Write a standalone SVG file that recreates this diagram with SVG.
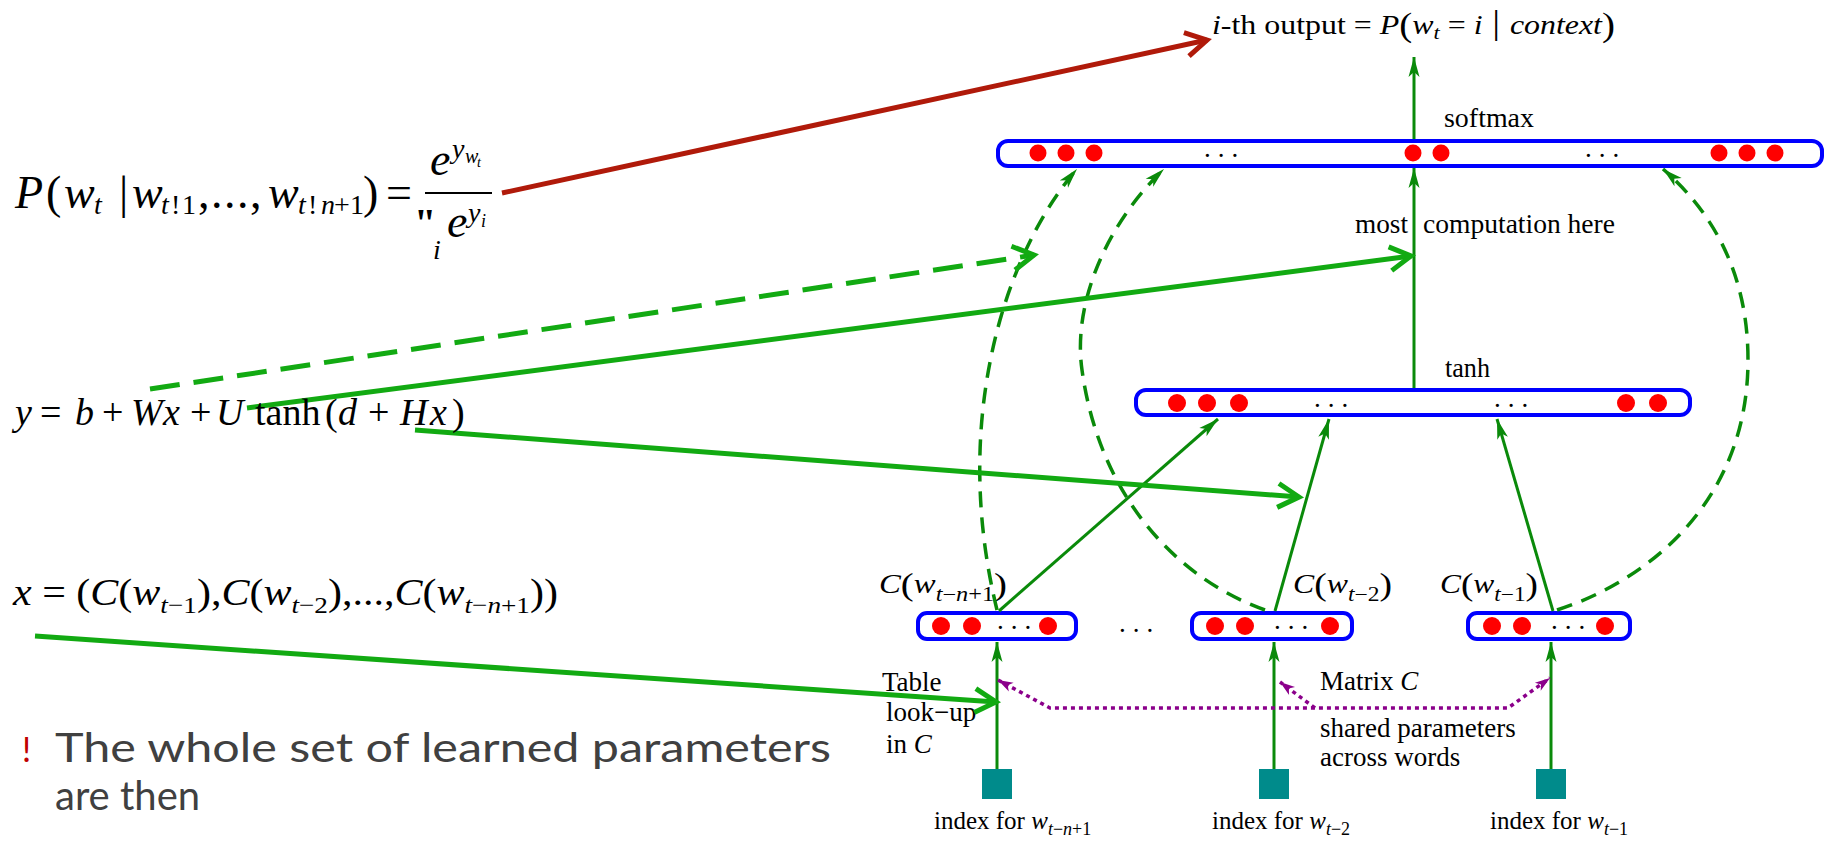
<svg xmlns="http://www.w3.org/2000/svg" width="1826" height="841" viewBox="0 0 1826 841">
<style>
.box{fill:#fff;stroke:#0000ff;stroke-width:4}
.dot{fill:#ff0000}
.edge{fill:none;stroke:#0a8a0a;stroke-width:3}
.arc{fill:none;stroke:#0a8a0a;stroke-width:3.5;stroke-dasharray:16 10}
.note{fill:none;stroke:#12aa12;stroke-width:5}
.note-dash{stroke-dasharray:30 14}
.red{fill:none;stroke:#b01a0a;stroke-width:5}
.share{fill:none;stroke:#8b008b;stroke-width:3.5;stroke-dasharray:4 4}
.key{fill:#008b8b}
.t{font-family:"Liberation Serif","Times New Roman",serif;font-size:27px;fill:#000}
.idx{font-family:"Liberation Serif","Times New Roman",serif;font-size:25px;fill:#000}
.i{font-style:italic}
.eq{font-family:"Liberation Serif","Times New Roman",serif;fill:#000}
.ell{font-family:"Liberation Serif",serif;font-size:27px;letter-spacing:7px;fill:#000}
.bul{font-family:Lato,"Open Sans",sans-serif;font-size:40px;fill:#404040}
</style>
<defs>
<marker id="tip" markerUnits="userSpaceOnUse" viewBox="-22 -7 24 14" markerWidth="24" markerHeight="14" refX="0" refY="0" orient="auto" overflow="visible">
<path d="M0,0 L-20,-5.5 L-15,0 L-20,5.5 Z" fill="#0a8a0a"/>
</marker>
<marker id="ptip" markerUnits="userSpaceOnUse" viewBox="-18 -7 20 14" markerWidth="20" markerHeight="14" refX="0" refY="0" orient="auto-start-reverse" overflow="visible">
<path d="M0,0 L-15,-5 L-11,0 L-15,5 Z" fill="#8b008b"/>
</marker>
<marker id="chev" markerUnits="userSpaceOnUse" viewBox="-26 -16 30 32" markerWidth="30" markerHeight="32" refX="0" refY="0" orient="auto" overflow="visible">
<path d="M-21,-12 L0,0 L-21,12" fill="none" stroke="#12aa12" stroke-width="5"/>
</marker>
<marker id="chev-red" markerUnits="userSpaceOnUse" viewBox="-26 -16 30 32" markerWidth="30" markerHeight="32" refX="0" refY="0" orient="auto" overflow="visible">
<path d="M-21,-12 L0,0 L-21,12" fill="none" stroke="#b01a0a" stroke-width="5"/>
</marker>
</defs>
<rect width="1826" height="841" fill="#fff"/>

<!-- output probability -->
<g id="output-label">
<text class="t" x="1212" y="34" textLength="403" lengthAdjust="spacingAndGlyphs"><tspan class="i">i</tspan>-th output = <tspan class="i">P</tspan><tspan font-size="33" dy="2">(</tspan><tspan class="i" dy="-2">w</tspan><tspan class="i" font-size="19" dy="5">t</tspan><tspan dy="-5">  =  </tspan><tspan class="i">i</tspan><tspan font-size="33"> | </tspan><tspan class="i">context</tspan><tspan font-size="33" dy="2">)</tspan></text>
</g>

<!-- softmax output layer -->
<g id="softmax-layer">
<rect class="box" x="998" y="141" width="824" height="25" rx="10"/>
<circle class="dot" cx="1038" cy="153" r="8.5"/>
<circle class="dot" cx="1066" cy="153" r="8.5"/>
<circle class="dot" cx="1094" cy="153" r="8.5"/>
<circle class="dot" cx="1413" cy="153" r="8.5"/>
<circle class="dot" cx="1441" cy="153" r="8.5"/>
<circle class="dot" cx="1719" cy="153" r="8.5"/>
<circle class="dot" cx="1747" cy="153" r="8.5"/>
<circle class="dot" cx="1775" cy="153" r="8.5"/>
<text class="ell" x="1204" y="157">...</text>
<text class="ell" x="1585" y="157">...</text>
<text class="t" x="1444" y="127" textLength="90" lengthAdjust="spacingAndGlyphs">softmax</text>
</g>

<!-- hidden tanh layer -->
<g id="tanh-layer">
<rect class="box" x="1136" y="390" width="554" height="25" rx="10"/>
<circle class="dot" cx="1177" cy="403" r="9"/>
<circle class="dot" cx="1207" cy="403" r="9"/>
<circle class="dot" cx="1239" cy="403" r="9"/>
<circle class="dot" cx="1626" cy="403" r="9"/>
<circle class="dot" cx="1658" cy="403" r="9"/>
<text class="ell" x="1314" y="407">...</text>
<text class="ell" x="1494" y="407">...</text>
<text class="t" x="1445" y="377" textLength="45" lengthAdjust="spacingAndGlyphs">tanh</text>
</g>

<g id="compute-label">
<text class="t" x="1355" y="233" textLength="53" lengthAdjust="spacingAndGlyphs">most</text>
<text class="t" x="1423" y="233" textLength="192" lengthAdjust="spacingAndGlyphs">computation here</text>
</g>

<!-- word feature vectors -->
<g id="feature-n1">
<rect class="box" x="918" y="613" width="158" height="26" rx="9"/>
<circle class="dot" cx="941" cy="626" r="9"/>
<circle class="dot" cx="972" cy="626" r="9"/>
<circle class="dot" cx="1048" cy="626" r="9"/>
<text class="ell" x="997" y="629">...</text>
<text class="t" x="879" y="593" textLength="128" lengthAdjust="spacingAndGlyphs"><tspan class="i">C</tspan><tspan font-size="32" dy="2">(</tspan><tspan class="i" dy="-2">w</tspan><tspan font-size="20" dy="8"><tspan class="i">t</tspan>−<tspan class="i">n</tspan>+1</tspan><tspan font-size="32" dy="-6">)</tspan></text>
</g>
<g id="feature-2">
<rect class="box" x="1192" y="613" width="160" height="26" rx="9"/>
<circle class="dot" cx="1215" cy="626" r="9"/>
<circle class="dot" cx="1245" cy="626" r="9"/>
<circle class="dot" cx="1330" cy="626" r="9"/>
<text class="ell" x="1274" y="629">...</text>
<text class="t" x="1293" y="593" textLength="99" lengthAdjust="spacingAndGlyphs"><tspan class="i">C</tspan><tspan font-size="32" dy="2">(</tspan><tspan class="i" dy="-2">w</tspan><tspan font-size="20" dy="8"><tspan class="i">t</tspan>−2</tspan><tspan font-size="32" dy="-6">)</tspan></text>
</g>
<g id="feature-1">
<rect class="box" x="1468" y="613" width="162" height="26" rx="9"/>
<circle class="dot" cx="1492" cy="626" r="9"/>
<circle class="dot" cx="1522" cy="626" r="9"/>
<circle class="dot" cx="1605" cy="626" r="9"/>
<text class="ell" x="1551" y="629">...</text>
<text class="t" x="1440" y="593" textLength="98" lengthAdjust="spacingAndGlyphs"><tspan class="i">C</tspan><tspan font-size="32" dy="2">(</tspan><tspan class="i" dy="-2">w</tspan><tspan font-size="20" dy="8"><tspan class="i">t</tspan>−1</tspan><tspan font-size="32" dy="-6">)</tspan></text>
</g>
<text class="ell" x="1119" y="632">...</text>

<!-- word index inputs -->
<g id="index-n1">
<rect class="key" x="982" y="769" width="30" height="30"/>
<text class="idx" x="934" y="829">index for <tspan class="i">w</tspan><tspan font-size="18" dy="6"><tspan class="i">t</tspan>−<tspan class="i">n</tspan>+1</tspan></text>
</g>
<g id="index-2">
<rect class="key" x="1259" y="769" width="30" height="30"/>
<text class="idx" x="1212" y="829">index for <tspan class="i">w</tspan><tspan font-size="18" dy="6"><tspan class="i">t</tspan>−2</tspan></text>
</g>
<g id="index-1">
<rect class="key" x="1536" y="769" width="30" height="30"/>
<text class="idx" x="1490" y="829">index for <tspan class="i">w</tspan><tspan font-size="18" dy="6"><tspan class="i">t</tspan>−1</tspan></text>
</g>

<g id="lookup-label">
<text class="t" x="882" y="691">Table</text>
<text class="t" x="886" y="721">look−up</text>
<text class="t" x="886" y="753">in <tspan class="i">C</tspan></text>
</g>
<g id="matrix-label">
<text class="t" x="1320" y="690">Matrix <tspan class="i">C</tspan></text>
<text class="t" x="1320" y="737">shared parameters</text>
<text class="t" x="1320" y="766">across words</text>
</g>

<!-- connectors -->
<g id="connectors">
<line class="edge" x1="1414" y1="139" x2="1414" y2="57" marker-end="url(#tip)"/>
<line class="edge" x1="1414" y1="388" x2="1414" y2="168" marker-end="url(#tip)"/>
<line class="edge" x1="997" y1="769" x2="997" y2="642" marker-end="url(#tip)"/>
<line class="edge" x1="1274" y1="769" x2="1274" y2="642" marker-end="url(#tip)"/>
<line class="edge" x1="1551" y1="769" x2="1551" y2="642" marker-end="url(#tip)"/>
<line class="edge" x1="999" y1="611" x2="1218" y2="419" marker-end="url(#tip)"/>
<line class="edge" x1="1275" y1="611" x2="1329" y2="419" marker-end="url(#tip)"/>
<line class="edge" x1="1553" y1="611" x2="1497" y2="419" marker-end="url(#tip)"/>
<path class="arc" d="M997,610 C975,520 972,420 1000,320 C1020,250 1050,200 1077,169" marker-end="url(#tip)"/>
<path class="arc" d="M1265,610 C1180,580 1100,500 1082,370 C1072,300 1110,220 1164,169" marker-end="url(#tip)"/>
<path class="arc" d="M1557,610 C1650,580 1748,500 1748,360 C1748,270 1710,210 1663,169" marker-end="url(#tip)"/>
<path class="share" d="M998,680 L1050,708 L1508,708 L1550,678" marker-start="url(#ptip)" marker-end="url(#ptip)"/>
<path class="share" d="M1315,708 L1280,682" marker-end="url(#ptip)"/>
<line class="red" x1="502" y1="193" x2="1207" y2="40" marker-end="url(#chev-red)"/>
<line class="note note-dash" x1="150" y1="389" x2="1034" y2="255" marker-end="url(#chev)"/>
<line class="note" x1="247" y1="408" x2="1411" y2="256" marker-end="url(#chev)"/>
<line class="note" x1="415" y1="430" x2="1299" y2="497" marker-end="url(#chev)"/>
<line class="note" x1="35" y1="636" x2="996" y2="702" marker-end="url(#chev)"/>
</g>

<!-- P(w_t | context) formula -->
<g id="eq-prob" class="eq" font-size="46">
<text x="15" y="208" class="i">P</text>
<text x="46" y="208">(</text>
<text x="64" y="208" class="i">w</text>
<text x="94" y="214" font-size="28" class="i">t</text>
<text x="119" y="208">|</text>
<text x="132" y="208" class="i">w</text>
<text y="214" font-size="28"><tspan x="161" class="i">t</tspan><tspan x="171">!</tspan><tspan x="182">1</tspan></text>
<text x="198" y="208" letter-spacing="1.5">,...,</text>
<text x="268" y="208" class="i">w</text>
<text y="214" font-size="28"><tspan x="298" class="i">t</tspan><tspan x="308">!</tspan><tspan x="321" class="i">n</tspan><tspan x="334">+</tspan><tspan x="350">1</tspan></text>
<text x="363" y="208">)</text>
<text x="386" y="208">=</text>
<line x1="425" y1="193" x2="492" y2="193" stroke="#000" stroke-width="2"/>
<text x="430" y="175" class="i">e</text>
<text x="452" y="158" font-size="28" class="i">y</text>
<text x="465" y="163" font-size="20" class="i">w</text>
<text x="477" y="167" font-size="14" class="i">t</text>
<text x="414" y="236" font-size="40" font-weight="bold">"</text>
<text x="447" y="237" class="i">e</text>
<text x="468" y="222" font-size="28" class="i">y</text>
<text x="481" y="227" font-size="18" class="i">i</text>
<text x="433" y="259" font-size="28" class="i">i</text>
</g>

<!-- y formula -->
<g id="eq-y" class="eq" font-size="38">
<text x="15" y="425" class="i">y</text>
<text x="40" y="425">=</text>
<text x="75" y="425" class="i">b</text>
<text x="102" y="425">+</text>
<text x="131" y="425" class="i">W</text>
<text x="163" y="425" class="i">x</text>
<text x="190" y="425">+</text>
<text x="216" y="425" class="i">U</text>
<text x="255" y="425">tanh</text>
<text x="325" y="425">(</text>
<text x="338" y="425" class="i">d</text>
<text x="368" y="425">+</text>
<text x="400" y="425" class="i">H</text>
<text x="430" y="425" class="i">x</text>
<text x="452" y="425">)</text>
</g>

<!-- x formula -->
<g id="eq-x" class="eq" font-size="37">
<text x="13" y="605" textLength="545" lengthAdjust="spacingAndGlyphs"><tspan class="i">x</tspan> = (<tspan class="i">C</tspan>(<tspan class="i">w</tspan><tspan font-size="24" dy="8"><tspan class="i">t</tspan>−1</tspan><tspan dy="-8">),</tspan><tspan class="i">C</tspan>(<tspan class="i">w</tspan><tspan font-size="24" dy="8"><tspan class="i">t</tspan>−2</tspan><tspan dy="-8">),...,</tspan><tspan class="i">C</tspan>(<tspan class="i">w</tspan><tspan font-size="24" dy="8"><tspan class="i">t</tspan>−<tspan class="i">n</tspan>+1</tspan><tspan dy="-8">))</tspan></text>
</g>

<!-- bullet text -->
<g id="bullet">
<text x="22" y="762" font-family="Lato,'Open Sans',sans-serif" font-size="34" fill="#c00000">!</text>
<text class="bul" x="55" y="762" textLength="776" lengthAdjust="spacingAndGlyphs">The whole set of learned parameters</text>
<text class="bul" x="55" y="810">are then</text>
</g>
</svg>
